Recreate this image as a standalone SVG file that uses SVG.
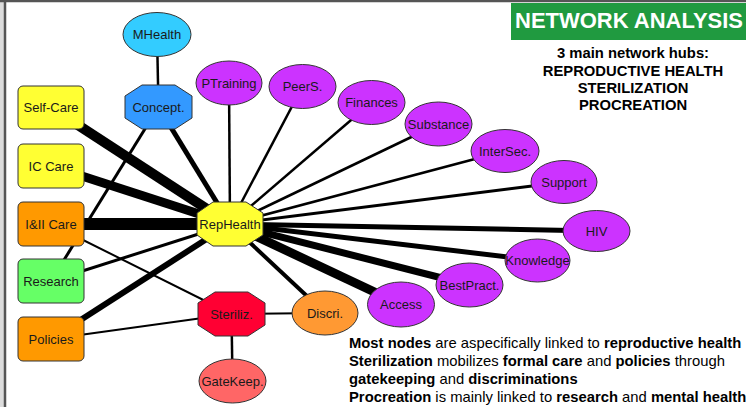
<svg xmlns="http://www.w3.org/2000/svg" width="746" height="407" viewBox="0 0 746 407">
<style>
.n{stroke:#333;stroke-width:1}
.lbl{font-family:"Liberation Sans",Arial,sans-serif;font-size:13px;fill:#1a1a1a;text-anchor:middle}
.e{stroke:#000;fill:none;stroke-linecap:butt}
.txt{font-family:"Liberation Sans",Arial,sans-serif;font-size:14.8px;fill:#000}
.b{font-weight:bold}
.y{fill:#ffff33}.o{fill:#ff9900}.g{fill:#66ff66}.p{fill:#cc33ff}
</style>
<rect x="0" y="0" width="746" height="407" fill="#fff"/>
<rect x="0" y="0" width="4" height="407" fill="#dcdcdc"/>
<line x1="5" y1="0" x2="5" y2="407" stroke="#555" stroke-width="2.5"/>
<line x1="0" y1="1" x2="746" y2="1" stroke="#555" stroke-width="2.5"/>

<g id="connectors">
<line class="e" x1="157" y1="34" x2="158.5" y2="107" stroke-width="2.5"/>
<line class="e" x1="158.5" y1="107" x2="51" y2="281" stroke-width="3"/>
<line class="e" x1="158.5" y1="107" x2="230" y2="224" stroke-width="5"/>
<line class="e" x1="51" y1="107.5" x2="230" y2="224" stroke-width="10"/>
<line class="e" x1="51" y1="166" x2="230" y2="224" stroke-width="9"/>
<line class="e" x1="51" y1="224" x2="230" y2="224" stroke-width="12"/>
<line class="e" x1="51" y1="281" x2="230" y2="224" stroke-width="3"/>
<line class="e" x1="51" y1="339" x2="230" y2="224" stroke-width="6"/>
<line class="e" x1="51" y1="224" x2="231.5" y2="314" stroke-width="2"/>
<line class="e" x1="51" y1="339" x2="231.5" y2="314" stroke-width="2"/>
<line class="e" x1="231.5" y1="314" x2="325" y2="313" stroke-width="2"/>
<line class="e" x1="231.5" y1="314" x2="232.5" y2="381" stroke-width="2.5"/>
<line class="e" x1="230" y1="224" x2="325" y2="313" stroke-width="4"/>
<line class="e" x1="230" y1="224" x2="229" y2="83" stroke-width="2.5"/>
<line class="e" x1="230" y1="224" x2="302.5" y2="86.5" stroke-width="2.5"/>
<line class="e" x1="230" y1="224" x2="371.5" y2="102.5" stroke-width="2.5"/>
<line class="e" x1="230" y1="224" x2="438.5" y2="124" stroke-width="2.5"/>
<line class="e" x1="230" y1="224" x2="505" y2="151" stroke-width="2.5"/>
<line class="e" x1="230" y1="224" x2="564" y2="182" stroke-width="3"/>
<line class="e" x1="230" y1="224" x2="596.5" y2="231" stroke-width="5"/>
<line class="e" x1="230" y1="224" x2="537.5" y2="260.5" stroke-width="5"/>
<line class="e" x1="230" y1="224" x2="469.5" y2="285" stroke-width="7"/>
<line class="e" x1="230" y1="224" x2="401" y2="304.5" stroke-width="9"/>
</g>

<g id="MHealth"><ellipse class="n" cx="157" cy="34.5" rx="34" ry="22" fill="#33ccff"/><text class="lbl" x="157" y="39">MHealth</text></g>
<g id="Concept"><polygon class="n" fill="#3399ff" points="142,85 175,85 192,96 192,118 175,129 142,129 125,118 125,96"/><text class="lbl" x="158.5" y="111.5">Concept.</text></g>
<g id="SelfCare"><rect class="n y" x="18" y="86" width="66" height="43" rx="5"/><text class="lbl" x="51" y="112">Self-Care</text></g>
<g id="ICCare"><rect class="n y" x="18" y="144" width="66" height="44" rx="5"/><text class="lbl" x="51" y="170.5">IC Care</text></g>
<g id="IIICare"><rect class="n o" x="18" y="202" width="66" height="44" rx="5"/><text class="lbl" x="51" y="228.5">I&amp;II Care</text></g>
<g id="Research"><rect class="n g" x="18" y="259" width="66" height="44" rx="5"/><text class="lbl" x="51" y="285.5">Research</text></g>
<g id="Policies"><rect class="n o" x="18" y="317" width="66" height="44" rx="5"/><text class="lbl" x="51" y="343.5">Policies</text></g>
<g id="RepHealth"><polygon class="n y" points="213,202 246,202 263,213 263,235 246,246 213,246 197,235 197,213"/><text class="lbl" x="230" y="228.5">RepHealth</text></g>
<g id="Steriliz"><polygon class="n" fill="#ff0033" points="215,292 248,292 265,303 265,325 248,336 215,336 198,325 198,303"/><text class="lbl" x="231.5" y="318.5">Steriliz.</text></g>
<g id="GateKeep"><ellipse class="n" cx="232.5" cy="381" rx="33.5" ry="22" fill="#ff6666"/><text class="lbl" x="232.5" y="385.5">GateKeep.</text></g>
<g id="Discri"><ellipse class="n" cx="325" cy="313" rx="33" ry="22" fill="#ff9933"/><text class="lbl" x="325" y="317.5">Discri.</text></g>
<g id="PTraining"><ellipse class="n p" cx="229" cy="83" rx="33" ry="22"/><text class="lbl" x="229" y="87.5">PTraining</text></g>
<g id="PeerS"><ellipse class="n p" cx="302.5" cy="86.5" rx="33.5" ry="22"/><text class="lbl" x="302.5" y="91">PeerS.</text></g>
<g id="Finances"><ellipse class="n p" cx="371.5" cy="102.5" rx="33.5" ry="22"/><text class="lbl" x="371.5" y="107">Finances</text></g>
<g id="Substance"><ellipse class="n p" cx="438.5" cy="124" rx="33.5" ry="22"/><text class="lbl" x="438.5" y="128.5">Substance</text></g>
<g id="InterSec"><ellipse class="n p" cx="505" cy="151" rx="34" ry="21.5"/><text class="lbl" x="505" y="155.5">InterSec.</text></g>
<g id="Support"><ellipse class="n p" cx="564" cy="182" rx="33" ry="21.5"/><text class="lbl" x="564" y="186.5">Support</text></g>
<g id="HIV"><ellipse class="n p" cx="596.5" cy="231" rx="33.5" ry="20.5"/><text class="lbl" x="596.5" y="235.5">HIV</text></g>
<g id="Knowledge"><ellipse class="n p" cx="537.5" cy="260.5" rx="32.5" ry="21.5"/><text class="lbl" x="537.5" y="265">Knowledge</text></g>
<g id="BestPract"><ellipse class="n p" cx="469.5" cy="285" rx="33.5" ry="22"/><text class="lbl" x="469.5" y="289.5">BestPract.</text></g>
<g id="Access"><ellipse class="n p" cx="401" cy="304.5" rx="33.5" ry="22.5"/><text class="lbl" x="401" y="309">Access</text></g>

<g id="title">
<rect x="511" y="3" width="235" height="37" fill="#209a40"/>
<text x="515" y="28" font-family="'Liberation Sans',Arial,sans-serif" font-size="21.5" font-weight="bold" fill="#fff" textLength="228" lengthAdjust="spacingAndGlyphs">NETWORK ANALYSIS</text>
<text class="txt b" x="633" y="58" text-anchor="middle">3 main network hubs:</text>
<text class="txt b" x="633" y="76" text-anchor="middle">REPRODUCTIVE HEALTH</text>
<text class="txt b" x="633" y="93" text-anchor="middle">STERILIZATION</text>
<text class="txt b" x="633" y="110" text-anchor="middle">PROCREATION</text>
</g>
<g id="notes">
<text class="txt" x="349" y="348"><tspan class="b">Most nodes</tspan> are aspecifically linked to <tspan class="b">reproductive health</tspan></text>
<text class="txt" x="349" y="366"><tspan class="b">Sterilization</tspan> mobilizes <tspan class="b">formal care</tspan> and <tspan class="b">policies</tspan> through</text>
<text class="txt" x="349" y="384"><tspan class="b">gatekeeping</tspan> and <tspan class="b">discriminations</tspan></text>
<text class="txt" x="349" y="402"><tspan class="b">Procreation</tspan> is mainly linked to <tspan class="b">research</tspan> and <tspan class="b">mental health</tspan></text>
</g>
</svg>
